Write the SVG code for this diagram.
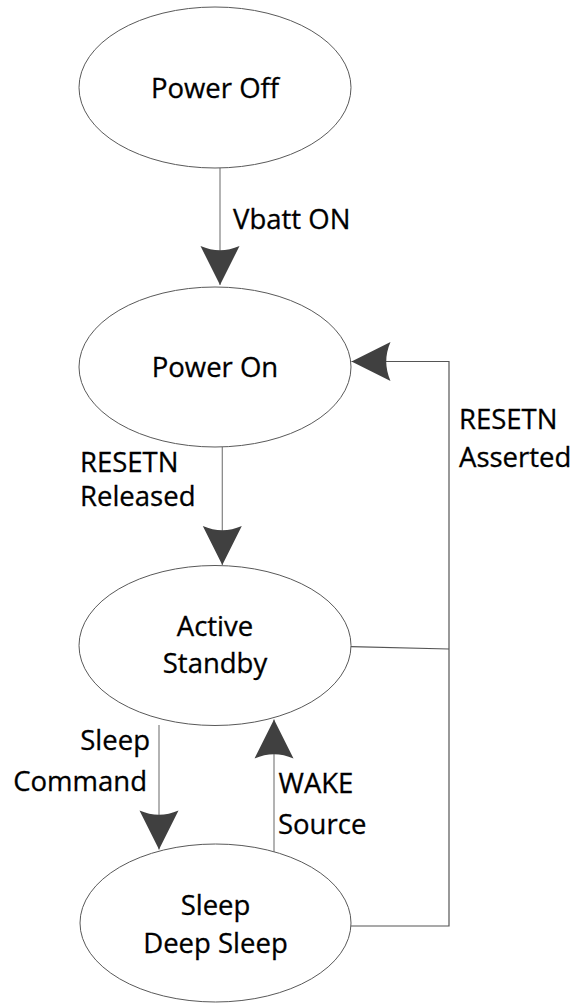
<svg xmlns="http://www.w3.org/2000/svg" width="575" height="1003" viewBox="0 0 575 1003">
<style>
.node{fill:#ffffff;stroke:#595959;stroke-width:1}
.t{font-family:"Open Sans","Liberation Sans",sans-serif;font-size:27.5px;fill:#000000;stroke:#000000;stroke-width:0.3}
.c{text-anchor:middle}
.e{text-anchor:end}
.ln{fill:none;stroke:#808080;stroke-width:1.2}
.ln2{fill:none;stroke:#555555;stroke-width:1.2}
</style>
<defs>
<marker id="ah" markerUnits="userSpaceOnUse" markerWidth="42" markerHeight="42" viewBox="-40 -21 42 42" refX="0" refY="0" orient="auto" overflow="visible">
<path d="M0,0 L-39,-19.5 Q-30.5,0 -39,19.5 Z" fill="#404040"/>
</marker>
</defs>
<rect width="575" height="1003" fill="#ffffff"/>
<g id="connectors">
<line class="ln" x1="220" y1="168" x2="220" y2="285" marker-end="url(#ah)"/>
<line class="ln" x1="222.3" y1="447" x2="222.3" y2="565" marker-end="url(#ah)"/>
<line class="ln" x1="159" y1="725" x2="159" y2="849.5" marker-end="url(#ah)"/>
<line class="ln" x1="274" y1="852" x2="274" y2="719.5" marker-end="url(#ah)"/>
<polyline class="ln2" points="351,926 449,926 449,361.5 351.5,361.5" marker-end="url(#ah)"/>
<line class="ln2" x1="351" y1="646.7" x2="449" y2="649"/>
<text class="t" x="233" y="229">Vbatt ON</text>
<text class="t" x="80" y="472">RESETN</text>
<text class="t" x="80" y="506">Released</text>
<text class="t" x="459" y="429">RESETN</text>
<text class="t" x="459" y="467">Asserted</text>
<text class="t e" x="150" y="750">Sleep</text>
<text class="t e" x="147" y="791">Command</text>
<text class="t" x="278.5" y="792.5">WAKE</text>
<text class="t" x="278" y="834">Source</text>
</g>
<g id="power-off">
<ellipse class="node" cx="215" cy="87.5" rx="136" ry="80.5"/>
<text class="t c" x="215" y="98.3">Power Off</text>
</g>
<g id="power-on">
<ellipse class="node" cx="215" cy="367" rx="136" ry="80"/>
<text class="t c" x="215" y="377">Power On</text>
</g>
<g id="active-standby">
<ellipse class="node" cx="215" cy="645.5" rx="136" ry="80"/>
<text class="t c" x="215" y="635.7">Active</text>
<text class="t c" x="215" y="673.3">Standby</text>
</g>
<g id="sleep">
<ellipse class="node" cx="215.5" cy="923" rx="135.5" ry="79"/>
<text class="t c" x="215.5" y="915">Sleep</text>
<text class="t c" x="215.5" y="953">Deep Sleep</text>
</g>
</svg>
